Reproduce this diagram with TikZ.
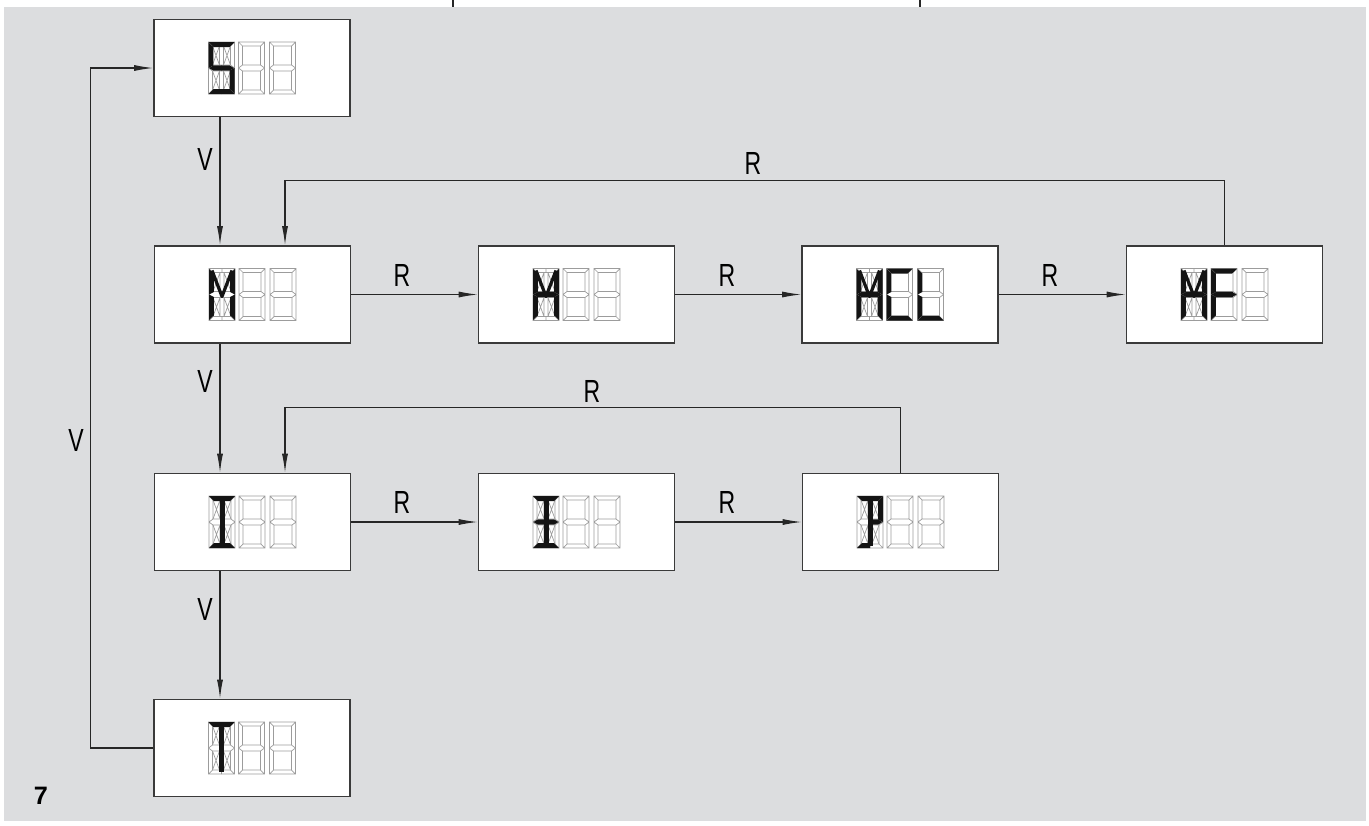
\documentclass[tikz,border=0pt]{standalone}
\usepackage{fontspec}
\setmainfont{Liberation Sans}
\newfontfamily\labfont[FakeStretch=0.72]{Liberation Sans}
\usetikzlibrary{arrows.meta,calc}
\definecolor{bggray}{HTML}{DCDDDF}
\definecolor{boxline}{HTML}{3A3A3A}
\definecolor{seggray}{HTML}{9C9C9C}
\tikzset{
  disp/.style={draw=boxline, line width=0.8pt, fill=white, minimum width=98pt, minimum height=48.5pt, inner sep=0pt},
  conn/.style={draw=black!85, line width=0.55pt},
  arr/.style={conn, -{Latex[length=9.5pt,width=3pt]}},
  lab/.style={font=\labfont\fontsize{16}{16}\selectfont, inner sep=0pt},
  segline/.style={draw=seggray, line width=0.35pt},
  segon/.style={fill=black!92},
}
\newcommand\sgSeven{\draw[segline] (0,0) rectangle (26,52) (4,4) rectangle (22,23) (4,29) rectangle (22,48)
  (0,0)--(4,4) (26,0)--(22,4) (0,52)--(4,48) (26,52)--(22,48)
  (0,26)--(4,23) (0,26)--(4,29) (26,26)--(22,23) (26,26)--(22,29);}
\newcommand\sgSixteen{\sgSeven
  \draw[segline] (11,4)--(11,23) (15,4)--(15,23) (11,29)--(11,48) (15,29)--(15,48)
  (13,0)--(13,4) (13,48)--(13,52) (13,23)--(13,29)
  (4,4)--(11,23) (4,23)--(11,4) (15,4)--(22,23) (15,23)--(22,4)
  (4,29)--(11,48) (4,48)--(11,29) (15,29)--(22,48) (15,48)--(22,29);}
\newcommand\sgT{\fill[segon] (0,0)--(26,0)--(21,5)--(5,5)--cycle;}
\newcommand\sgB{\fill[segon] (0,52)--(26,52)--(21,47)--(5,47)--cycle;}
\newcommand\sgLU{\fill[segon] (0,0.5)--(4.8,5)--(4.8,23.5)--(0,26)--cycle;}
\newcommand\sgLL{\fill[segon] (0,26)--(4.8,28.5)--(4.8,47)--(0,51.5)--cycle;}
\newcommand\sgRU{\fill[segon] (26,0.5)--(21.2,5)--(21.2,23.5)--(26,26)--cycle;}
\newcommand\sgRL{\fill[segon] (26,26)--(21.2,28.5)--(21.2,47)--(26,51.5)--cycle;}
\newcommand\sgMid{\fill[segon] (0.5,26)--(5,23.3)--(21,23.3)--(25.5,26)--(21,28.7)--(5,28.7)--cycle;}
\newcommand\sgMidR{\fill[segon] (12,23.3)--(21,23.3)--(25.5,26)--(21,28.7)--(12,28.7)--cycle;}
\newcommand\sgCV{\fill[segon] (10.5,4) rectangle (15.5,50);}
\newcommand\sgBL{\fill[segon] (0,52)--(13,52)--(13,47)--(5,47)--cycle;}
\newcommand\sgDiag{\draw[black!92, line width=1.6pt, line join=round] (3,2)--(13,28)--(23,2);}
\newcommand\sgBox[4]{%
  \begin{scope}[shift={(#1.center)}]
    \begin{scope}[shift={(-43.5,-26)}]\sgSixteen #2\end{scope}
    \begin{scope}[shift={(-13.5,-26)}]\sgSeven #3\end{scope}
    \begin{scope}[shift={(17.5,-26)}]\sgSeven #4\end{scope}
  \end{scope}}
\begin{document}
\begin{tikzpicture}[x=0.5pt,y=-0.5pt]
\useasboundingbox (0,0) rectangle (1369,825);
\fill[bggray] (4,7) rectangle (1366,821);
\draw[conn] (453,0) -- (453,7);
\draw[conn] (920,0) -- (920,7);
% boxes
\node[disp] (S)   at (252,68) {};
\node[disp] (M)   at (252.5,294.5) {};
\node[disp] (M2)  at (576.5,294.5) {};
\node[disp] (MCL) at (900,294.5) {};
\node[disp] (MF)  at (1224.5,294.5) {};
\node[disp] (I)   at (252.5,522) {};
\node[disp] (I2)  at (576.5,522) {};
\node[disp] (P)   at (900.5,522) {};
\node[disp] (T)   at (252,748) {};
% displays
\sgBox{S}{\sgT\sgLU\sgMid\sgRL\sgB}{}{}
\sgBox{M}{\sgLU\sgLL\sgRU\sgRL\sgDiag}{}{}
\sgBox{M2}{\sgLU\sgLL\sgRU\sgRL\sgDiag\sgMid}{}{}
\sgBox{MCL}{\sgLU\sgLL\sgRU\sgRL\sgDiag\sgMid}{\sgT\sgLU\sgLL\sgB}{\sgLU\sgLL\sgB}
\sgBox{MF}{\sgLU\sgLL\sgRU\sgRL\sgDiag\sgMid}{\sgT\sgLU\sgLL\sgMid}{}
\sgBox{I}{\sgT\sgB\sgCV}{}{}
\sgBox{I2}{\sgT\sgB\sgCV\sgMid}{}{}
\sgBox{P}{\sgT\sgCV\sgRU\sgMidR\sgBL}{}{}
\sgBox{T}{\sgT\sgCV}{}{}
% vertical V arrows
\draw[arr] ($(S.south)+(-32,0)$) -- ($(M.north)+(-32.5,0)$);
\draw[arr] ($(M.south)+(-32.5,0)$) -- ($(I.north)+(-32.5,0)$);
\draw[arr] ($(I.south)+(-32.5,0)$) -- ($(T.north)+(-32,0)$);
% horizontal R arrows
\draw[arr] (M) -- (M2);
\draw[arr] (M2) -- (MCL);
\draw[arr] (MCL) -- (MF);
\draw[arr] (I) -- (I2);
\draw[arr] (I2) -- (P);
% loops
\draw[arr] (MF.north) |- ($(M.north)+(32.5,-65)$) -- ($(M.north)+(32.5,0)$);
\draw[arr] (P.north) |- ($(I.north)+(32.5,-65)$) -- ($(I.north)+(32.5,0)$);
\draw[arr] (T.west) -- ++(-63,0) |- (S.west);
% labels
\node[lab] (v1) at (205,159) {V};
\node[lab] (v2) at (205,381) {V};
\node[lab] (v3) at (205,609) {V};
\node[lab] (v4) at (76,440) {V};
\node[lab] (r1) at (402,275) {R};
\node[lab] (r2) at (727,275) {R};
\node[lab] (r3) at (1050,275) {R};
\node[lab] (r4) at (402,502) {R};
\node[lab] (r5) at (727,502) {R};
\node[lab] (r6) at (753,163) {R};
\node[lab] (r7) at (592,391) {R};
\node[font=\bfseries\fontsize{12.6}{13}\selectfont, inner sep=0pt] (fig) at (41,796) {7};
\end{tikzpicture}
\end{document}
